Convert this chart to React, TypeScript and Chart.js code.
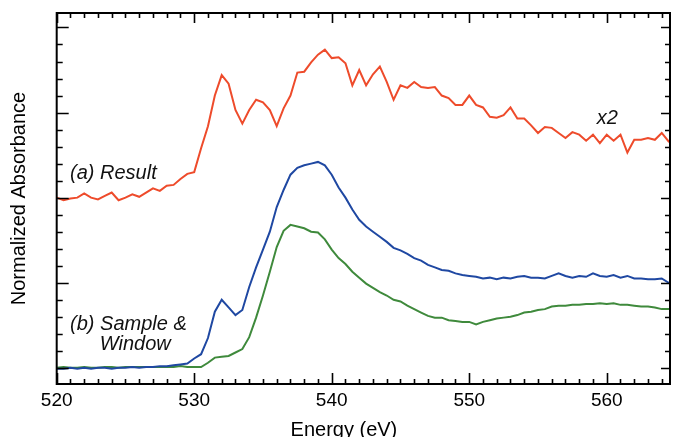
import { useEffect, useRef } from "react";
import { Chart, registerables } from "chart.js";

Chart.register(...registerables);

const FONT = '"Liberation Sans", Arial, Helvetica, sans-serif';

// Energy grid (eV)
const ENERGY = [
  520, 520.5, 521, 521.5, 522, 522.5, 523, 523.5, 524, 524.5,
  525, 525.5, 526, 526.5, 527, 527.5, 528, 528.5, 529, 529.5,
  530, 530.5, 531, 531.5, 532, 532.5, 533, 533.5, 534, 534.5,
  535, 535.5, 536, 536.5, 537, 537.5, 538, 538.5, 539, 539.5,
  540, 540.5, 541, 541.5, 542, 542.5, 543, 543.5, 544, 544.5,
  545, 545.5, 546, 546.5, 547, 547.5, 548, 548.5, 549, 549.5,
  550, 550.5, 551, 551.5, 552, 552.5, 553, 553.5, 554, 554.5,
  555, 555.5, 556, 556.5, 557, 557.5, 558, 558.5, 559, 559.5,
  560, 560.5, 561, 561.5, 562, 562.5, 563, 563.5, 564, 564.5,
  565,
];

// (a) Result (x2, offset)
const RESULT = [
  2.0, 1.97, 1.99, 2.0, 2.05, 2.0, 1.98, 2.02, 2.06, 1.97,
  2.0, 2.04, 2.01, 2.06, 2.11, 2.08, 2.14, 2.15, 2.22, 2.28,
  2.3, 2.58, 2.84, 3.2, 3.44, 3.34, 3.03, 2.87, 3.03, 3.15,
  3.12, 3.03, 2.84, 3.05, 3.2, 3.47, 3.48, 3.59, 3.68, 3.74,
  3.64, 3.65, 3.58, 3.32, 3.5, 3.32, 3.45, 3.54, 3.36, 3.15,
  3.32, 3.29, 3.36, 3.3, 3.29, 3.3, 3.2, 3.17, 3.09, 3.09,
  3.2, 3.09, 3.06, 2.95, 2.94, 2.97, 3.06, 2.93, 2.93, 2.85,
  2.76, 2.83, 2.82, 2.76, 2.7, 2.77, 2.74, 2.67, 2.74, 2.64,
  2.74, 2.67, 2.74, 2.53, 2.68, 2.68, 2.7, 2.68, 2.76, 2.66,
  2.7,
];

// (b) Sample
const SAMPLE = [
  -0.01, -0.01, 0, -0.01, 0, -0.01, 0, 0, -0.01, 0,
  0, 0.01, 0, 0.01, 0.01, 0.02, 0.02, 0.03, 0.04, 0.05,
  0.11, 0.16, 0.35, 0.66, 0.8, 0.71, 0.62, 0.68, 0.95, 1.18,
  1.39, 1.6, 1.89, 2.09, 2.27, 2.35, 2.38, 2.4, 2.42, 2.38,
  2.27, 2.12, 2.0, 1.86, 1.74, 1.66, 1.6, 1.54, 1.48, 1.41,
  1.38, 1.34, 1.29, 1.26, 1.21, 1.18, 1.15, 1.14, 1.11, 1.09,
  1.08, 1.07, 1.05, 1.06, 1.04, 1.06, 1.05, 1.07, 1.08, 1.06,
  1.06, 1.05, 1.08, 1.11, 1.08, 1.06, 1.08, 1.07, 1.11, 1.08,
  1.07, 1.09, 1.06, 1.08, 1.05, 1.05, 1.04, 1.04, 1.05, 1.0,
  1.01,
];

// (b) Window
const WINDOW = [
  0, 0.01, 0, 0, 0.01, 0, 0, 0.01, 0.01, 0,
  0.01, 0.01, 0.01, 0.01, 0.01, 0.01, 0.01, 0.01, 0.02, 0.01,
  0.01, 0.01, 0.06, 0.12, 0.13, 0.14, 0.18, 0.22, 0.36, 0.59,
  0.85, 1.13, 1.42, 1.61, 1.68, 1.66, 1.64, 1.6, 1.59, 1.51,
  1.39, 1.29, 1.22, 1.13, 1.06, 0.99, 0.94, 0.89, 0.85, 0.8,
  0.78, 0.73, 0.69, 0.65, 0.61, 0.59, 0.59, 0.56, 0.55, 0.54,
  0.54, 0.51, 0.54, 0.56, 0.58, 0.59, 0.6, 0.62, 0.65, 0.66,
  0.68, 0.69, 0.72, 0.73, 0.73, 0.74, 0.74, 0.75, 0.75, 0.76,
  0.75, 0.76, 0.74, 0.74, 0.73, 0.72, 0.72, 0.71, 0.69, 0.69,
  0.68,
];

const X_MIN = 520;
const X_MAX = 564.6;
const Y_MIN = -0.19;
const Y_MAX = 4.17;
const X_TICKS = [520, 530, 540, 550, 560];

// In-plot annotations (text, energy, absorbance of baseline)
const NOTE_TEXT = ["(a) Result", "x2", "(b) Sample &", "Window"];
const NOTE_X = [520.97, 559.27, 520.97, 523.13];
const NOTE_Y = [2.22, 2.865, 0.44, 0.21];

const COLORS = { result: "#EE4B2B", sample: "#1F48A2", window: "#3F8A3C" };

const pts = (ys: number[]) => ENERGY.map((x, i) => ({ x, y: ys[i] }));

const framePlugin = {
  id: "frameTicks",
  afterDatasetsDraw(chart: any) {
    const { ctx, chartArea: a, scales } = chart;
    const xs = scales.x;
    const ys = scales.y;
    ctx.save();
    ctx.strokeStyle = "#000";
    ctx.lineWidth = 1.6;
    ctx.beginPath();
    for (let v = Math.ceil(X_MIN); v <= X_MAX + 1e-6; v += 1) {
      const px = Math.round(xs.getPixelForValue(v)) + 0.5;
      const major = v % 10 === 0;
      const lb = major ? 11 : 5;
      const lt = major ? 10 : 5;
      ctx.moveTo(px, a.bottom);
      ctx.lineTo(px, a.bottom - lb);
      ctx.moveTo(px, a.top);
      ctx.lineTo(px, a.top + lt);
    }
    for (let k = -1; k <= 21; k++) {
      const v = k * 0.2;
      if (v < Y_MIN || v > Y_MAX) continue;
      const py = Math.round(ys.getPixelForValue(v)) + 0.5;
      const major = k % 5 === 0;
      const ll = major ? 12 : 6;
      const lr = major ? 9 : 5;
      ctx.moveTo(a.left, py);
      ctx.lineTo(a.left + ll, py);
      ctx.moveTo(a.right, py);
      ctx.lineTo(a.right - lr, py);
    }
    ctx.stroke();
    ctx.lineWidth = 2;
    ctx.strokeRect(a.left, a.top, a.right - a.left, a.bottom - a.top);

    ctx.fillStyle = "#111";
    ctx.font = `italic 20px ${FONT}`;
    ctx.textBaseline = "alphabetic";
    ctx.textAlign = "left";
    NOTE_TEXT.forEach((t, i) => {
      ctx.fillText(t, xs.getPixelForValue(NOTE_X[i]), ys.getPixelForValue(NOTE_Y[i]));
    });
    ctx.restore();
  },
};

export default function App() {
  const ref = useRef<HTMLCanvasElement | null>(null);
  useEffect(() => {
    if (!ref.current) return;
    const chart = new Chart(ref.current, {
      type: "line",
      data: {
        datasets: [
          { label: "Sample", data: pts(SAMPLE), borderColor: COLORS.sample, borderWidth: 2, pointRadius: 0, tension: 0 },
          { label: "Window", data: pts(WINDOW), borderColor: COLORS.window, borderWidth: 2, pointRadius: 0, tension: 0 },
          { label: "Result", data: pts(RESULT), borderColor: COLORS.result, borderWidth: 2, pointRadius: 0, tension: 0 },
        ],
      },
      options: {
        animation: false,
        responsive: false,
        devicePixelRatio: 1,
        layout: { padding: { top: 13, right: 3, left: 0, bottom: 0 } },
        plugins: { legend: { display: false }, tooltip: { enabled: false } },
        scales: {
          x: {
            type: "linear",
            min: X_MIN,
            max: X_MAX,
            grid: { display: false, drawTicks: false },
            border: { display: false },
            afterFit: (s: any) => { s.height = 53; },
            afterBuildTicks: (s: any) => { s.ticks = X_TICKS.map((v) => ({ value: v })); },
            ticks: {
              color: "#000",
              padding: 5,
              maxRotation: 0,
              autoSkip: false,
              font: { family: FONT, size: 19 },
            },
            title: {
              display: true,
              text: "Energy (eV)       ",
              color: "#000",
              font: { family: FONT, size: 20 },
              padding: { top: 0, bottom: -5 },
            },
          },
          y: {
            type: "linear",
            min: Y_MIN,
            max: Y_MAX,
            grid: { display: false, drawTicks: false },
            border: { display: false },
            ticks: { display: false },
            afterFit: (s: any) => { s.width = 56.7; },
            title: {
              display: true,
              text: "Normalized Absorbance",
              color: "#000",
              font: { family: FONT, size: 20 },
              padding: { top: 7, bottom: 0 },
            },
          },
        },
      },
      plugins: [framePlugin],
    });
    return () => chart.destroy();
  }, []);
  return (
    <div style={{ position: "absolute", left: 0, top: 0, width: 673, height: 437, background: "#fff" }}>
      <canvas ref={ref} width={673} height={437} />
    </div>
  );
}
